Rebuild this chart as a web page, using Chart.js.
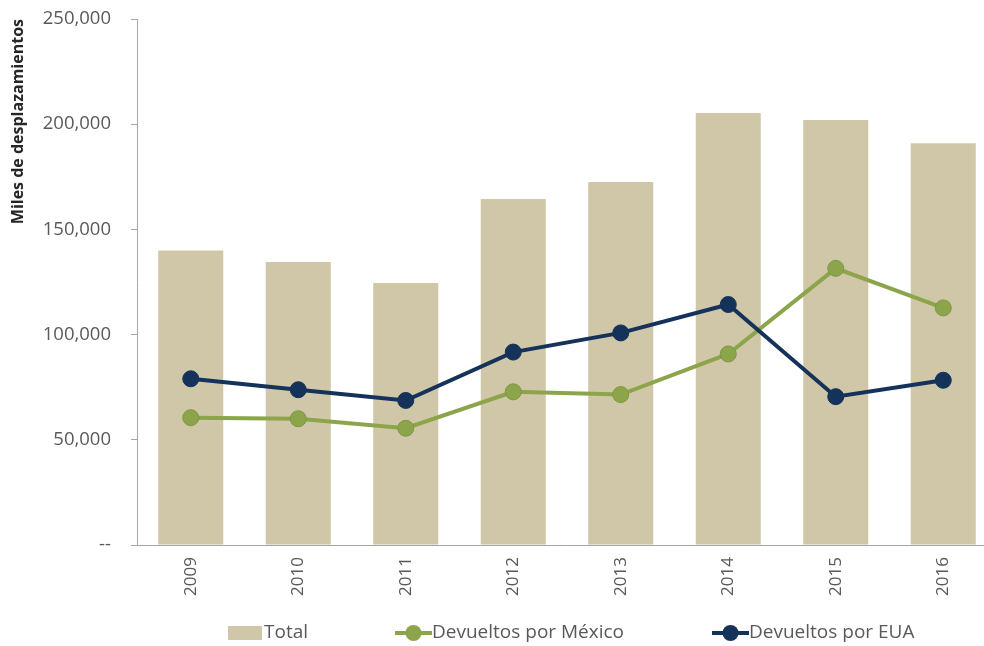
<!DOCTYPE html>
<html>
<head>
<meta charset="utf-8">
<script src="https://cdn.jsdelivr.net/npm/chart.js@4/dist/chart.umd.min.js"></script>
<style>
html,body{margin:0;padding:0;background:#fff;overflow:hidden;width:984px;height:646px;}
#wrap{position:absolute;left:0;top:0;width:1006px;height:646px;}
</style>
</head>
<body>
<div id="wrap"><canvas id="c" width="1006" height="646"></canvas></div>
<script>
const years = ['2009','2010','2011','2012','2013','2014','2015','2016'];
const total = [140000, 134500, 124500, 164500, 172500, 205300, 202000, 191000];
const mexico = [60500, 60000, 55500, 72800, 71500, 90800, 131500, 112700];
const eua = [79000, 73800, 68700, 91700, 100800, 114300, 70500, 78300];
const yTicks = [0, 50000, 100000, 150000, 200000, 250000];
const seriesNames = ['Total', 'Devueltos por México', 'Devueltos por EUA'];

const cBar = '#CFC7A7', cGreen = '#8CA54B', cNavy = '#15325A';
const tickColor = '#595959';
const FONT = "'Open Sans', 'DejaVu Sans', sans-serif";

const legendPlugin = {
  id: 'customLegend',
  afterDraw(chart) {
    const ctx = chart.ctx;
    const y = 633;
    ctx.save();
    ctx.font = "19px " + FONT;
    ctx.textBaseline = 'middle';
    ctx.fillStyle = cBar;
    ctx.fillRect(228, 626, 34, 14);
    ctx.fillStyle = tickColor;
    ctx.fillText(seriesNames[0], 264, y);
    const items = [[395, cGreen, seriesNames[1]], [712, cNavy, seriesNames[2]]];
    for (const [x, col, name] of items) {
      ctx.strokeStyle = col;
      ctx.lineWidth = 4;
      ctx.beginPath(); ctx.moveTo(x, y); ctx.lineTo(x + 37, y); ctx.stroke();
      ctx.fillStyle = col;
      ctx.beginPath(); ctx.arc(x + 18.5, y, 8, 0, Math.PI * 2); ctx.fill();
      ctx.fillStyle = tickColor;
      ctx.fillText(name, x + 37, y);
    }
    ctx.restore();
  }
};

new Chart(document.getElementById('c'), {
  data: {
    labels: years,
    datasets: [
      { type: 'line', label: seriesNames[2], data: eua, borderColor: cNavy, backgroundColor: cNavy,
        borderWidth: 4, pointRadius: 8, pointBorderWidth: 1, pointBorderColor: cNavy, tension: 0, order: 1 },
      { type: 'line', label: seriesNames[1], data: mexico, borderColor: cGreen, backgroundColor: cGreen,
        borderWidth: 4, pointRadius: 8, pointBorderWidth: 1, pointBorderColor: '#7f9744', tension: 0, order: 2 },
      { type: 'bar', label: seriesNames[0], data: total, backgroundColor: cBar,
        barPercentage: 0.605, categoryPercentage: 1, order: 3 }
    ]
  },
  options: {
    responsive: false,
    animation: false,
    layout: { padding: { top: 19, right: 3.5, left: 0, bottom: 0 } },
    plugins: { legend: { display: false }, tooltip: { enabled: false } },
    scales: {
      x: {
        grid: { display: true, drawOnChartArea: false, drawTicks: false },
        border: { display: true, color: '#a6a6a6', width: 1 },
        ticks: { color: tickColor, font: { family: FONT, size: 17 }, maxRotation: 90, minRotation: 90, padding: 12 },
        afterFit(s) { s.height = 101; s.paddingLeft = 0; s.paddingRight = 0; }
      },
      y: {
        min: 0, max: 250000,
        afterBuildTicks(s) { s.ticks = yTicks.map(v => ({ value: v })); },
        grid: { display: true, drawOnChartArea: false, drawTicks: true, tickLength: 6, color: '#a6a6a6' },
        border: { display: true, color: '#a6a6a6', width: 1 },
        ticks: { color: tickColor, font: { family: FONT, size: 18.5 }, padding: 20,
          callback: v => v === 0 ? '--' : v.toLocaleString('en-US') },
        title: { display: true, text: 'Miles de desplazamientos', color: '#262626', align: 'end',
          font: { family: FONT, size: 16, weight: 'bold' }, padding: { top: 9, bottom: 0 } },
        afterFit(s) { s.width = 137; s.paddingTop = 0; s.paddingBottom = 0; }
      }
    }
  },
  plugins: [legendPlugin]
});
</script>
</body>
</html>
